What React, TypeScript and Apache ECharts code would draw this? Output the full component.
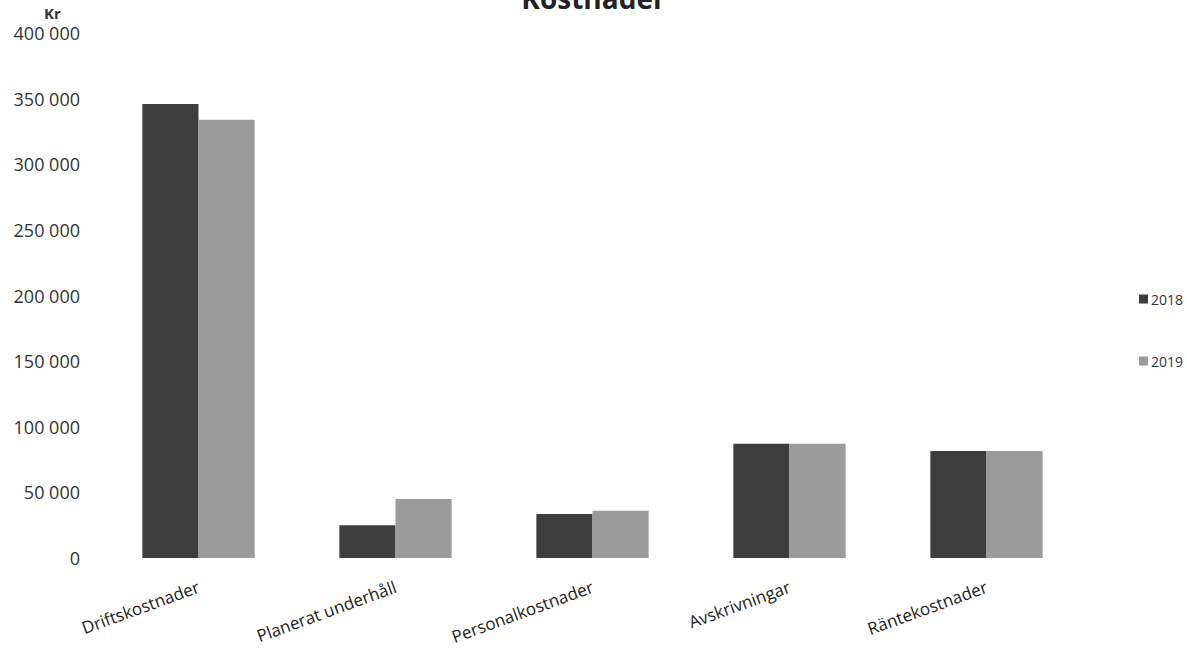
import React, { useEffect, useRef } from "react";
import * as echarts from "echarts";

const categories = ["Driftskostnader", "Planerat underhåll", "Personalkostnader", "Avskrivningar", "Räntekostnader"];
const values2018 = [346000, 25000, 33500, 87000, 81500];
const values2019 = [334000, 45000, 36000, 87000, 81500];
const seriesNames = ["2018", "2019"];

const fmt = (v: number) => {
  if (v === 0) return "0";
  const s = String(Math.round(v));
  return s.replace(/\B(?=(\d{3})+(?!\d))/g, " ");
};

export default function App() {
  const ref = useRef<HTMLDivElement>(null);
  useEffect(() => {
    if (!ref.current) return;
    const chart = echarts.init(ref.current, undefined, { renderer: "svg" });
    const font = "'Open Sans', 'Noto Sans', sans-serif";
    chart.setOption({
      animation: false,
      backgroundColor: "#ffffff",
      textStyle: { fontFamily: font },
      title: {
        text: "Kostnader",
        left: "center",
        top: -21,
        textStyle: { fontSize: 28, fontWeight: "bold", color: "#222", fontFamily: font },
      },
      graphic: [
        {
          type: "text",
          left: 44,
          top: 5,
          style: { text: "Kr", fontSize: 15, fontWeight: "bold", fill: "#333", fontFamily: font },
        },
      ],
      legend: {
        orient: "vertical",
        right: -1,
        top: 287,
        itemWidth: 9,
        itemHeight: 9,
        itemGap: 48,
        icon: "rect",
        textStyle: { fontSize: 14, color: "#333", fontFamily: font, padding: [0, 0, 0, -2] },
        data: seriesNames,
      },
      grid: { left: 100, right: 102, top: 33, bottom: 90, containLabel: false, outerBoundsMode: "none" },
      xAxis: {
        type: "category",
        data: categories,
        axisLine: { show: false },
        axisTick: { show: false },
        axisLabel: {
          rotate: 20,
          margin: 28,
          fontSize: 17,
          color: "#222",
          fontFamily: font,
          interval: 0,
        },
      },
      yAxis: {
        type: "value",
        min: 0,
        max: 400000,
        interval: 50000,
        splitLine: { show: false },
        axisLine: { show: false },
        axisTick: { show: false },
        axisLabel: {
          fontSize: 18,
          color: "#333",
          fontFamily: font,
          margin: 20,
          formatter: (v: number) => fmt(v),
        },
      },
      series: [
        {
          name: seriesNames[0],
          type: "bar",
          data: values2018,
          barGap: "0%",
          barCategoryGap: "43%",
          itemStyle: { color: "#3d3d3d" },
        },
        {
          name: seriesNames[1],
          type: "bar",
          data: values2019,
          barGap: "0%",
          barCategoryGap: "43%",
          itemStyle: { color: "#9b9b9b" },
        },
      ],
    });
    return () => chart.dispose();
  }, []);
  return <div ref={ref} style={{ width: 1187, height: 648, position: "absolute", left: 0, top: 0 }} />;
}
